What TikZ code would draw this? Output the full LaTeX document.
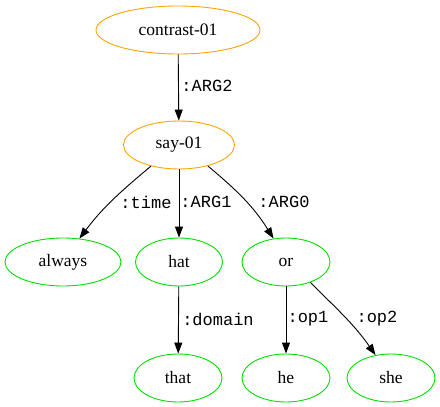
\documentclass[tikz,border=0pt]{standalone}
\usepackage{fontspec}
\setmainfont{Liberation Serif}
\setmonofont{Liberation Mono}
\usetikzlibrary{shapes.geometric,arrows.meta}
\begin{document}
\begin{tikzpicture}[x=1pt,y=-1pt,
  concept/.style={ellipse,draw=orange,line width=0.9pt,inner sep=0pt,
    minimum height=48pt,font=\fontsize{17.5}{20}\selectfont},
  leaf/.style={ellipse,draw=leafgreen,line width=0.9pt,inner sep=0pt,
    minimum height=48pt,font=\fontsize{17.5}{20}\selectfont},
  rel/.style={inner sep=0pt,font=\ttfamily\fontsize{17}{20}\selectfont},
  edge/.style={draw=black,line width=0.9pt,-{Triangle[length=11pt,width=8pt]}}]
\definecolor{orange}{HTML}{FFA500}
\definecolor{leafgreen}{HTML}{00E000}
\useasboundingbox (0,0) rectangle (440,407);

% nodes
\node[concept,minimum width=164pt] (contrast) at (178,30) {contrast-01};
\node[concept,minimum width=111pt] (say) at (179,145) {say-01};
\node[leaf,minimum width=116pt] (always) at (63,262) {always};
\node[leaf,minimum width=87pt] (hat) at (179,262) {hat};
\node[leaf,minimum width=88pt] (or) at (286,262) {or};
\node[leaf,minimum width=88pt] (that) at (178,378) {that};
\node[leaf,minimum width=88pt] (he) at (286,378) {he};
\node[leaf,minimum width=88pt] (she) at (391,378) {she};

% edges
\draw[edge] (contrast) -- (say);
\draw[edge] (say.-143) to[out=-140,in=53] (always.55);
\draw[edge] (say) -- (hat);
\draw[edge] (say.-36) to[out=-40,in=122] (or.118);
\draw[edge] (hat) -- (that);
\draw[edge] (or) -- (he);
\draw[edge] (or.-40) to[out=-45,in=125] (she.124);

% edge labels
\node[rel] (larg2) at (207,86) {:ARG2};
\node[rel] (ltime) at (146,202) {:time};
\node[rel] (larg1) at (206,202) {:ARG1};
\node[rel] (larg0) at (284,202) {:ARG0};
\node[rel] (ldomain) at (218,319) {:domain};
\node[rel] (lop1) at (308,319) {:op1};
\node[rel] (lop2) at (377,319) {:op2};
\end{tikzpicture}
\end{document}
